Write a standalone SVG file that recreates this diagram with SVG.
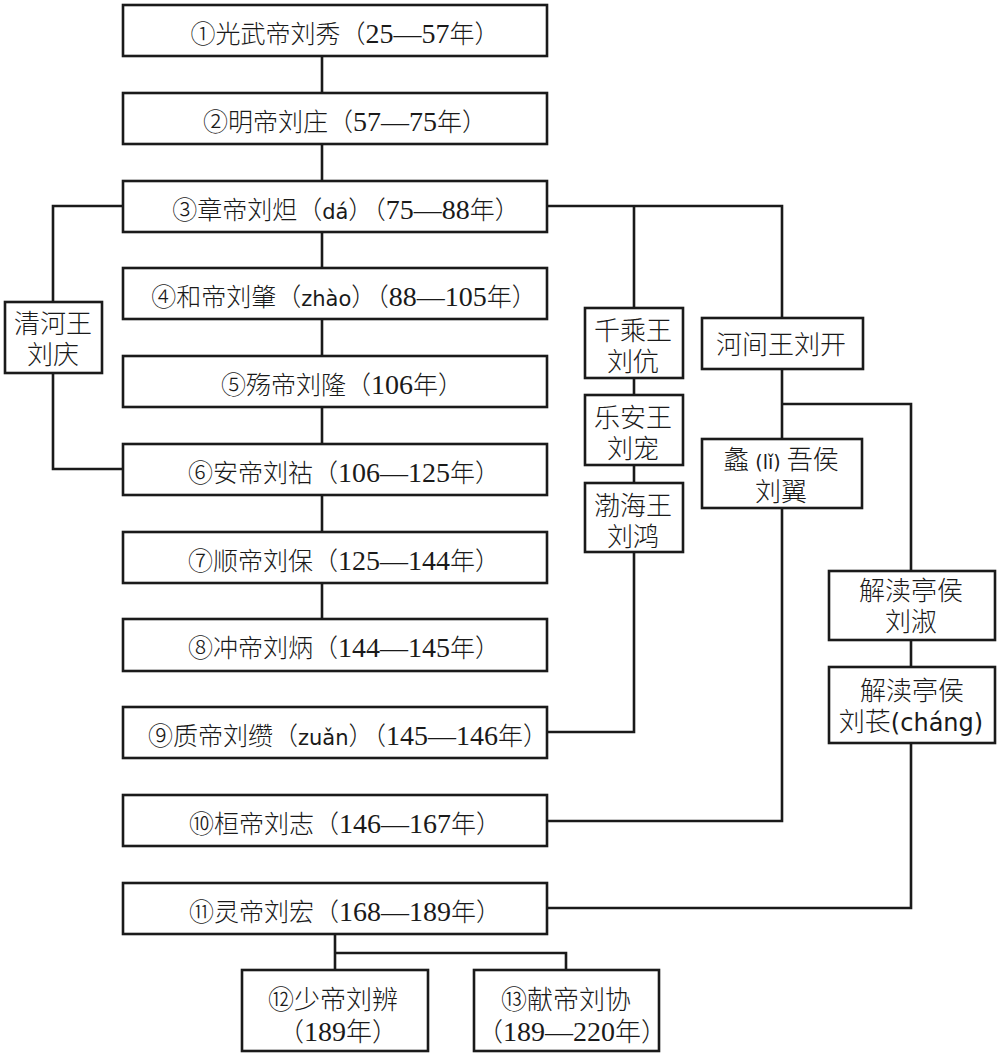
<svg xmlns="http://www.w3.org/2000/svg" width="1000" height="1057" viewBox="0 0 1000 1057">
<style>
.box{fill:#fff;stroke:#1a1a1a;stroke-width:2.6}
.ln{fill:none;stroke:#1a1a1a;stroke-width:2.6}
.t{font-family:"Noto Sans CJK SC",sans-serif;font-size:25px;font-weight:300;fill:#1a1a1a;text-anchor:middle}
.s{font-size:26px}
.b{font-size:26px}
.n{font-family:"Liberation Serif",serif;font-size:28px;font-weight:400}
.p{font-family:"DejaVu Sans",sans-serif;font-size:21px;font-weight:400}
</style>
<rect width="1000" height="1057" fill="#fff"/>
<g id="connectors">
<path class="ln" d="M322,56V93M322,144V181M322,232V268M322,319V356M322,407V444M322,495V532M322,583V619"/>
<path class="ln" d="M123,206H53V469H123"/>
<path class="ln" d="M547,206H782V318M634,206V308M634,378V395M634,465V483M634,552V732H547"/>
<path class="ln" d="M782,369V439M782,404H911V571M911,640V667M911,743V908H547M782,508V821H547"/>
<path class="ln" d="M335,934V970M335,953H566V970"/>
</g>
<g id="n1"><rect class="box" x="123" y="5" width="424" height="51"/><text class="t" x="345" y="43">①光武帝刘秀（<tspan class="n">25—57</tspan>年）</text></g>
<g id="n2"><rect class="box" x="123" y="93" width="424" height="51"/><text class="t" x="345" y="131">②明帝刘庄（<tspan class="n">57—75</tspan>年）</text></g>
<g id="n3"><rect class="box" x="123" y="181" width="424" height="51"/><text class="t" x="346" y="219">③章帝刘炟（<tspan class="p">dá</tspan>）（<tspan class="n">75—88</tspan>年）</text></g>
<g id="n4"><rect class="box" x="123" y="268" width="424" height="51"/><text class="t" x="344" y="306">④和帝刘肇（<tspan class="p">zhào</tspan>）（<tspan class="n">88—105</tspan>年）</text></g>
<g id="n5"><rect class="box" x="123" y="356" width="424" height="51"/><text class="t" x="342" y="394">⑤殇帝刘隆（<tspan class="n">106</tspan>年）</text></g>
<g id="n6"><rect class="box" x="123" y="444" width="424" height="51"/><text class="t" x="344" y="482">⑥安帝刘祜（<tspan class="n">106—125</tspan>年）</text></g>
<g id="n7"><rect class="box" x="123" y="532" width="424" height="51"/><text class="t" x="344" y="570">⑦顺帝刘保（<tspan class="n">125—144</tspan>年）</text></g>
<g id="n8"><rect class="box" x="123" y="619" width="424" height="52"/><text class="t" x="344" y="657">⑧冲帝刘炳（<tspan class="n">144—145</tspan>年）</text></g>
<g id="n9"><rect class="box" x="123" y="707" width="424" height="51"/><text class="t" x="348" y="745">⑨质帝刘缵（<tspan class="p">zuǎn</tspan>）（<tspan class="n">145—146</tspan>年）</text></g>
<g id="n10"><rect class="box" x="123" y="795" width="424" height="51"/><text class="t" x="345" y="833">⑩桓帝刘志（<tspan class="n">146—167</tspan>年）</text></g>
<g id="n11"><rect class="box" x="123" y="883" width="424" height="51"/><text class="t" x="345" y="921">⑪灵帝刘宏（<tspan class="n">168—189</tspan>年）</text></g>
<g id="n12"><rect class="box" x="242" y="970" width="186" height="81"/><text class="t b" x="333"><tspan x="333" y="1009">⑫少帝刘辨</tspan><tspan x="338" y="1041">（<tspan class="n">189</tspan>年）</tspan></text></g>
<g id="n13"><rect class="box" x="474" y="970" width="185" height="81"/><text class="t b" x="566"><tspan x="566" y="1009">⑬献帝刘协</tspan><tspan x="572" y="1041">（<tspan class="n">189—220</tspan>年）</tspan></text></g>
<g id="qinghe"><rect class="box" x="5" y="302" width="97" height="71"/><text class="t s"><tspan x="53" y="333">清河王</tspan><tspan x="53" y="364">刘庆</tspan></text></g>
<g id="qiancheng"><rect class="box" x="585" y="308" width="98" height="70"/><text class="t s"><tspan x="633" y="340">千乘王</tspan><tspan x="633" y="371">刘伉</tspan></text></g>
<g id="lean"><rect class="box" x="585" y="395" width="98" height="70"/><text class="t s"><tspan x="633" y="427">乐安王</tspan><tspan x="633" y="458">刘宠</tspan></text></g>
<g id="bohai"><rect class="box" x="585" y="483" width="98" height="69"/><text class="t s"><tspan x="633" y="515">渤海王</tspan><tspan x="633" y="546">刘鸿</tspan></text></g>
<g id="hejian"><rect class="box" x="702" y="318" width="161" height="51"/><text class="t s" x="781" y="354">河间王刘开</text></g>
<g id="liwu"><rect class="box" x="702" y="439" width="160" height="69"/><text class="t s"><tspan x="781" y="469">蠡<tspan class="p" style="font-size:19px"> (lǐ) </tspan>吾侯</tspan><tspan x="781" y="501">刘翼</tspan></text></g>
<g id="shu"><rect class="box" x="829" y="571" width="166" height="69"/><text class="t s"><tspan x="911" y="600">解渎亭侯</tspan><tspan x="911" y="631">刘淑</tspan></text></g>
<g id="chang"><rect class="box" x="829" y="667" width="166" height="76"/><text class="t s"><tspan x="912" y="700">解渎亭侯</tspan><tspan x="911" y="731">刘苌<tspan class="p" style="font-size:24px">(cháng)</tspan></tspan></text></g>
</svg>
